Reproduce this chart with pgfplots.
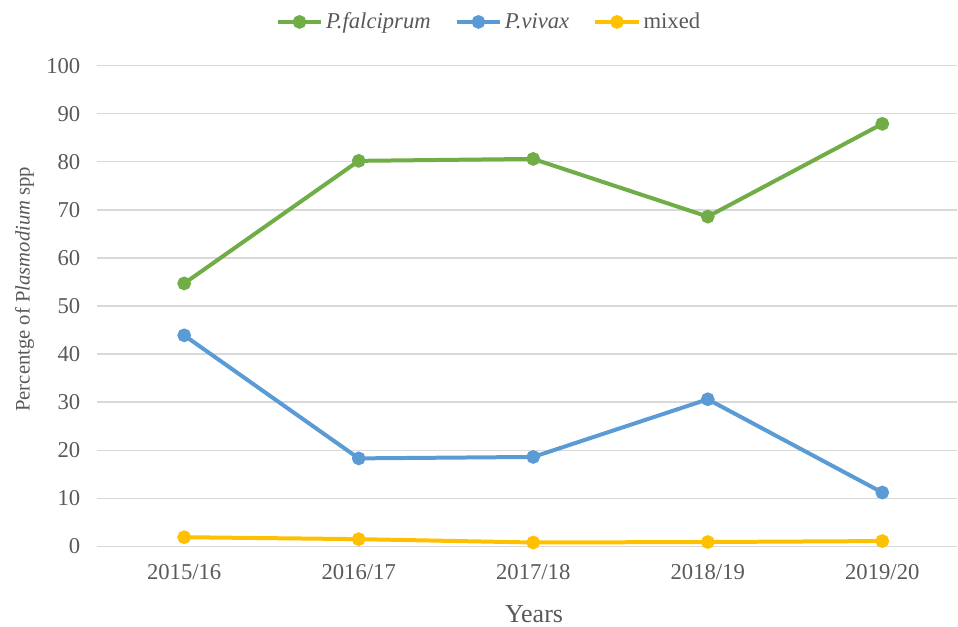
\documentclass[border=0pt]{standalone}
\usepackage{pgfplots}
\pgfplotsset{compat=1.18}
\usepackage{fontspec}
\setmainfont{Liberation Serif}
\definecolor{cgreen}{HTML}{70AD47}
\definecolor{cblue}{HTML}{5B9BD5}
\definecolor{cyellow}{HTML}{FFC000}
\definecolor{cgrid}{HTML}{D9D9D9}
\definecolor{ctext}{HTML}{595959}
\begin{document}
\begin{tikzpicture}
\begin{axis}[
  at={(0,0)}, anchor=south west,
  scale only axis,
  width=645.75pt, height=360.75pt,
  xmin=-0.5, xmax=4.43,
  ymin=0, ymax=100,
  ytick={0,10,...,100},
  xtick={0,1,2,3,4},
  xticklabels={2015/16,2016/17,2017/18,2018/19,2019/20},
  ymajorgrids, grid style={cgrid, line width=1pt},
  axis line style={draw=none},
  major tick length=0pt,
  tick label style={font=\fontsize{17}{19}\selectfont, text=ctext},
  /pgf/number format/assume math mode=true,
  xticklabel style={yshift=-10pt},
  yticklabel style={xshift=-9pt},
  xlabel={Years},
  xlabel style={at={(axis description cs:0.508,-0.14)}, anchor=center, font=\fontsize{19.5}{21}\selectfont, text=ctext},
  ylabel={Percentge of P\textit{lasmodium} spp},
  ylabel style={at={(axis description cs:-0.084,0.535)}, anchor=center, rotate=0, font=\fontsize{15.5}{17}\selectfont, text=ctext},
  legend columns=3,
  legend style={at={(axis description cs:0.456,1.091)}, anchor=center, draw=none, fill=none,
    font=\fontsize{17}{19}\selectfont, text=ctext,
    /tikz/every even column/.append style={column sep=16pt}},
  legend image code/.code={
    \draw[#1, mark=none] (0cm,0cm) -- (1.15cm,0cm);
    \draw[#1, only marks] plot coordinates {(0.575cm,0cm)};
  },
  every axis plot/.append style={line width=3pt, mark=*, mark size=3.6pt},
  clip=false,
]
\addplot[cgreen, mark options={fill=cgreen, draw=cgreen}] coordinates {(0,54.7) (1,80.2) (2,80.6) (3,68.6) (4,87.9)};
\addlegendentry{\textit{P.falciprum}}
\addplot[cblue, mark options={fill=cblue, draw=cblue}] coordinates {(0,43.9) (1,18.3) (2,18.6) (3,30.6) (4,11.2)};
\addlegendentry{\textit{P.vivax}}
\addplot[cyellow, mark options={fill=cyellow, draw=cyellow}] coordinates {(0,1.9) (1,1.5) (2,0.8) (3,0.9) (4,1.1)};
\addlegendentry{mixed}
\end{axis}
\useasboundingbox (-72.75pt,-59.5pt) rectangle (645.75pt,410.05pt);
\end{tikzpicture}
\end{document}
